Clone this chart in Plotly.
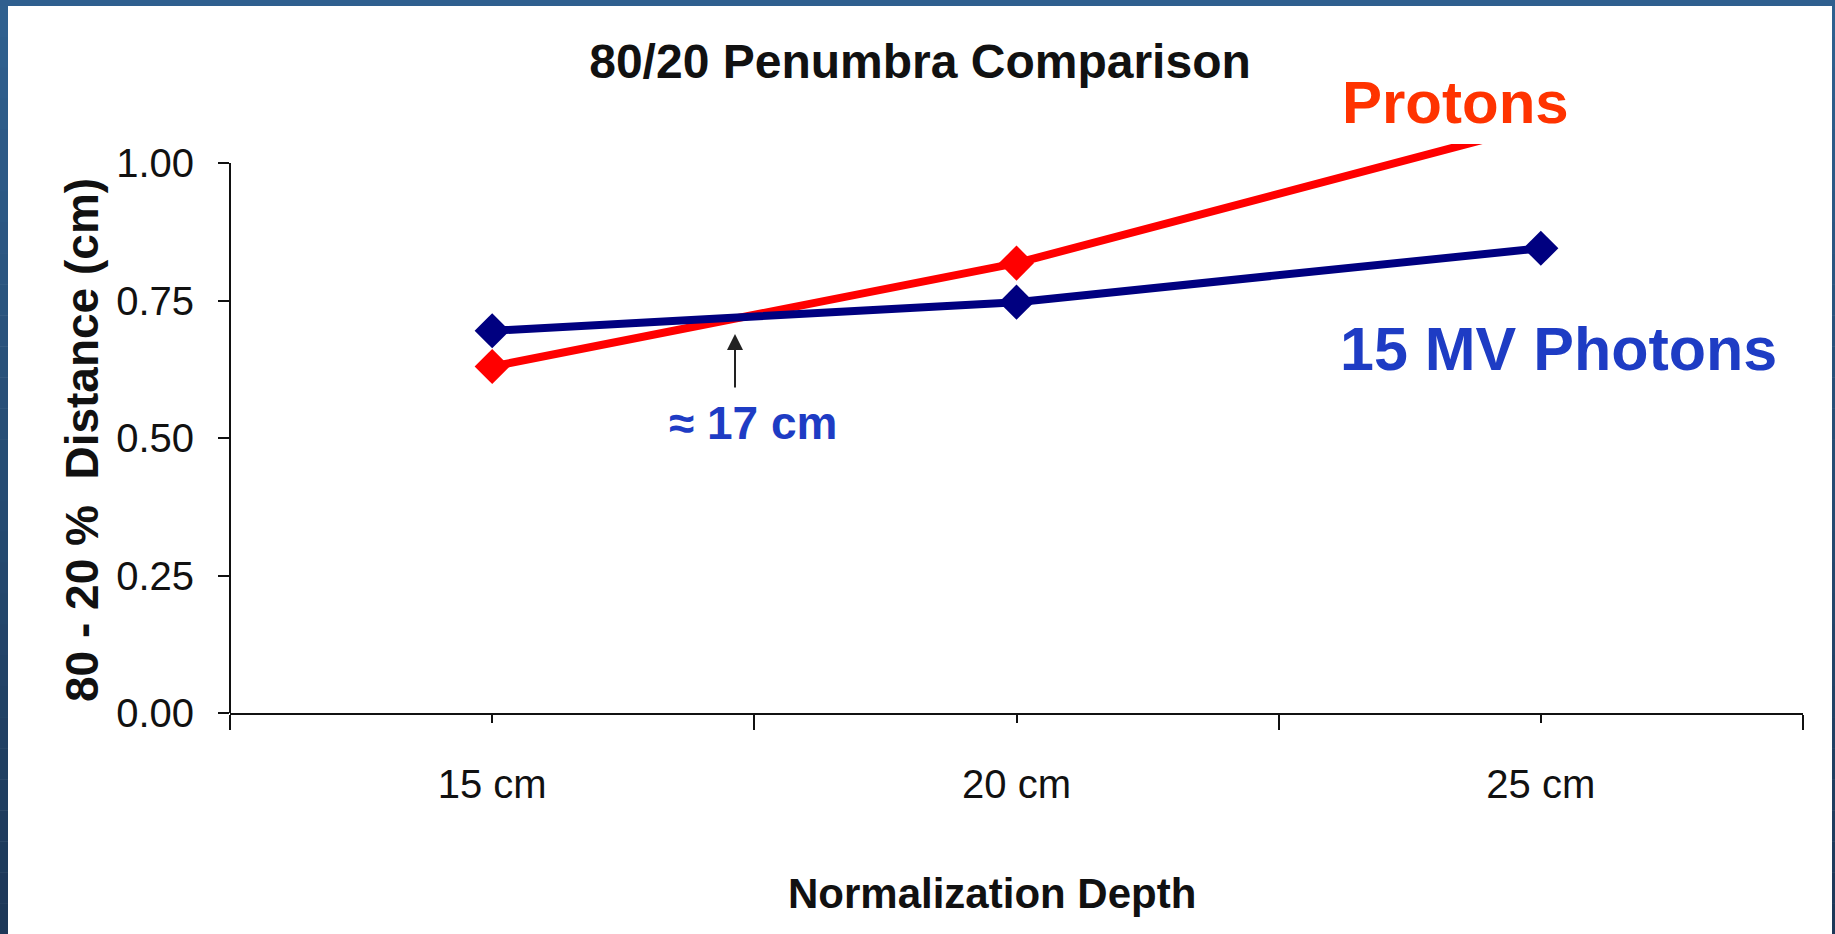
import plotly.graph_objects as go

categories = ["15 cm", "20 cm", "25 cm"]
protons = [0.63, 0.818, 1.07]
photons = [0.695, 0.747, 0.845]
y_ticks = [0.0, 0.25, 0.5, 0.75, 1.0]

W, H = 1835, 934
L, R, T, B = 230, 32, 144, 221
PW, PH = W - L - R, H - T - B
YMAX = (H - B - T) / 550.0  # ~1.035


def px2x(px):
    return (px - L) / PW


def py2y(py):
    return (H - B - py) / PH


xs = list(range(len(categories)))

fig = go.Figure()
fig.add_trace(go.Scatter(
    x=xs, y=protons, mode="lines+markers", name="Protons",
    line=dict(color="#FF0000", width=8),
    marker=dict(symbol="diamond", size=27, color="#FF0000"),
))
fig.add_trace(go.Scatter(
    x=xs, y=photons, mode="lines+markers", name="15 MV Photons",
    line=dict(color="#000080", width=8),
    marker=dict(symbol="diamond", size=27, color="#000080"),
))

shapes = []
# slide frame: top bar
shapes.append(dict(type="rect", xref="paper", yref="paper", layer="below",
                   x0=px2x(0), x1=px2x(W), y0=py2y(0), y1=py2y(6),
                   fillcolor="#2F5F8F", line=dict(width=0)))
# left and right borders with vertical gradient
n = 30
c0 = (47, 96, 143)
c1 = (29, 56, 88)
for i in range(n):
    t = i / (n - 1)
    c = tuple(int(round(c0[k] + (c1[k] - c0[k]) * t)) for k in range(3))
    col = "rgb(%d,%d,%d)" % c
    ya = 6 + (H - 6) * i / n
    yb = 6 + (H - 6) * (i + 1) / n + 0.5
    shapes.append(dict(type="rect", xref="paper", yref="paper", layer="below",
                       x0=px2x(0), x1=px2x(8), y0=py2y(ya), y1=py2y(yb),
                       fillcolor=col, line=dict(width=0)))
    shapes.append(dict(type="rect", xref="paper", yref="paper", layer="below",
                       x0=px2x(1832), x1=px2x(W), y0=py2y(ya), y1=py2y(yb),
                       fillcolor=col, line=dict(width=0)))
# y axis line from 0 to 1.00
shapes.append(dict(type="line", xref="paper", yref="y", x0=0, x1=0, y0=0, y1=1.0,
                   line=dict(color="#111111", width=2)))

annotations = [
    dict(text="80 - 20 %  Distance (cm)", xref="paper", yref="paper",
         x=px2x(82), y=py2y(440), textangle=-90, showarrow=False,
         font=dict(family="Liberation Sans, Arial", size=46, color="#111111", weight="bold"),
         xanchor="center", yanchor="middle"),
    dict(text="Normalization Depth", xref="paper", yref="paper",
         x=px2x(992), y=py2y(893), showarrow=False,
         font=dict(family="Liberation Sans, Arial", size=42, color="#111111", weight="bold"),
         xanchor="center", yanchor="middle"),
    dict(text="Protons", xref="paper", yref="paper",
         x=px2x(1455), y=py2y(102), showarrow=False,
         font=dict(family="Liberation Sans, Arial", size=60, color="#FF3300", weight="bold"),
         xanchor="center", yanchor="middle"),
    dict(text="15 MV Photons", xref="paper", yref="paper",
         x=px2x(1558), y=py2y(349), showarrow=False,
         font=dict(family="Liberation Sans, Arial", size=61, color="#1E3CC4", weight="bold"),
         xanchor="center", yanchor="middle"),
    dict(text="≈ 17 cm", xref="paper", yref="paper",
         x=px2x(753), y=py2y(423), showarrow=False,
         font=dict(family="Liberation Sans, Arial", size=46, color="#1E3CC4", weight="bold"),
         xanchor="center", yanchor="middle"),
    dict(text="", xref="paper", yref="paper",
         x=px2x(735), y=py2y(334), ax=0, ay=55, showarrow=True,
         arrowhead=2, arrowsize=1.6, arrowwidth=2, arrowcolor="#222222"),
]

fig.update_layout(
    width=W, height=H,
    margin=dict(l=L, r=R, t=T, b=B, pad=0),
    paper_bgcolor="white", plot_bgcolor="white",
    showlegend=False,
    title=dict(text="80/20 Penumbra Comparison", x=920 / W, y=1 - 61 / H,
               xanchor="center", yanchor="middle",
               font=dict(family="Liberation Sans, Arial", size=48, color="#111111", weight="bold")),
    shapes=shapes,
    annotations=annotations,
    xaxis=dict(
        range=[-0.5, 2.5], tickvals=xs, ticktext=categories,
        showgrid=False, zeroline=False,
        showline=True, linecolor="#111111", linewidth=2,
        ticks="outside", ticklen=8, tickwidth=2, tickcolor="#111111",
        ticklabelstandoff=27,
        minor=dict(tick0=-0.5, dtick=1, ticks="outside", ticklen=15,
                   tickwidth=2, tickcolor="#111111", showgrid=False),
        tickfont=dict(family="Liberation Sans, Arial", size=40, color="#111111"),
    ),
    yaxis=dict(
        range=[0, YMAX], tickvals=y_ticks, tickformat=".2f",
        showgrid=False, zeroline=False, showline=False,
        ticks="outside", ticklen=11, tickwidth=2, tickcolor="#111111",
        ticklabelstandoff=16,
        tickfont=dict(family="Liberation Sans, Arial", size=40, color="#111111"),
    ),
)

fig.write_html("out.html")
